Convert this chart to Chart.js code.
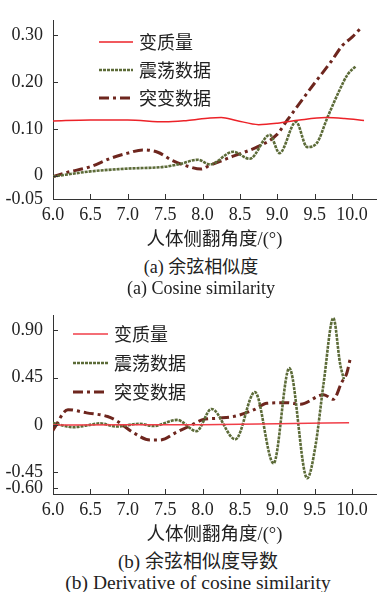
<!DOCTYPE html>
<html>
<head>
<meta charset="utf-8">
<script src="https://cdn.jsdelivr.net/npm/chart.js@4.4.1/dist/chart.umd.min.js"></script>
<style>
  body { margin: 0; background: #fff; width: 377px; height: 592px; position: relative; overflow: hidden; }
  canvas { position: absolute; left: 0; }
  #c1 { top: 0; }
  #c2 { top: 295px; }
  .cap { position: absolute; left: 0; width: 402px; text-align: center; color: #222;
         font-family: 'Liberation Serif', 'Noto Sans CJK SC', serif; font-size: 18px; line-height: 20px; }
  .cap.b { font-size: 19px; width: 396px; }
  .cap.be { font-size: 19.5px; width: 396px; }
</style>
</head>
<body>
<canvas id="c1" width="377" height="252"></canvas>
<canvas id="c2" width="377" height="252"></canvas>
<div class="cap" style="top:257px">(a) 余弦相似度</div>
<div class="cap" style="top:278px">(a) Cosine similarity</div>
<div class="cap b" style="top:552px">(b) 余弦相似度导数</div>
<div class="cap be" style="top:573px">(b) Derivative of cosine similarity</div>
<script>
// tick values / labels
const angleTicks = [6.0, 6.5, 7.0, 7.5, 8.0, 8.5, 9.0, 9.5, 10.0];
const angleTickLabels = ['6.0', '6.5', '7.0', '7.5', '8.0', '8.5', '9.0', '9.5', '10.0'];
const cosTicks = [0.30, 0.20, 0.10, 0, -0.05];
const cosTickLabels = ['0.30', '0.20', '0.10', '0', '-0.05'];
const derTicks = [0.90, 0.45, 0, -0.45, -0.60];
const derTickLabels = ['0.90', '0.45', '0', '-0.45', '-0.60'];
const seriesNames = ['变质量', '震荡数据', '突变数据'];
const xTitle = '人体侧翻角度/(°)';

// (a) cosine similarity
const cosMassX = [6.0, 6.5, 7.0, 7.5, 7.8, 8.1, 8.25, 8.45, 8.75, 9.0, 9.3, 9.65, 9.9, 10.16];
const cosMassY = [0.117, 0.119, 0.119, 0.115, 0.118, 0.123, 0.124, 0.118, 0.109, 0.112, 0.119, 0.124, 0.122, 0.118];
const cosOscX = [6.0, 6.5, 7.0, 7.5, 7.7, 7.94, 8.1, 8.41, 8.63, 8.9, 9.03, 9.25, 9.4, 9.53, 9.67, 9.83, 9.94, 10.05];
const cosOscY = [-0.002, 0.009, 0.015, 0.019, 0.025, 0.034, 0.024, 0.051, 0.036, 0.087, 0.048, 0.115, 0.061, 0.070, 0.124, 0.182, 0.216, 0.234];
const cosJumpX = [6.0, 6.19, 6.5, 6.77, 7.0, 7.2, 7.4, 7.6, 7.8, 7.98, 8.1, 8.4, 8.74, 8.99, 9.14, 9.3, 9.5, 9.72, 9.87, 10.0, 10.12];
const cosJumpY = [-0.002, 0.007, 0.019, 0.037, 0.048, 0.055, 0.05, 0.032, 0.02, 0.014, 0.022, 0.041, 0.062, 0.087, 0.12, 0.155, 0.198, 0.244, 0.278, 0.296, 0.316];

// (b) derivative of cosine similarity
const derMassX = [6.0, 7.0, 8.0, 9.0, 9.96];
const derMassY = [0.0, 0.001, 0.003, 0.012, 0.022];
const derOscX = [6.0, 6.27, 6.45, 6.63, 6.85, 7.16, 7.34, 7.66, 7.92, 8.12, 8.44, 8.70, 8.95, 9.16, 9.40, 9.51, 9.62, 9.75, 9.84, 9.89];
const derOscY = [0.018, -0.021, -0.005, 0.015, -0.015, 0.012, -0.01, 0.048, -0.058, 0.152, -0.136, 0.312, -0.364, 0.539, -0.506, -0.2, 0.4, 1.015, 0.58, 0.434];
const derJumpX = [6.0, 6.2, 6.45, 6.73, 6.85, 7.06, 7.3, 7.43, 7.66, 7.84, 8.0, 8.2, 8.41, 8.69, 8.86, 9.13, 9.31, 9.62, 9.75, 9.86, 9.93, 9.98];
const derJumpY = [-0.05, 0.145, 0.115, 0.08, 0.04, -0.066, -0.143, -0.143, -0.066, -0.006, 0.05, 0.064, 0.079, 0.145, 0.206, 0.212, 0.197, 0.288, 0.243, 0.403, 0.494, 0.645];

const serif = "'Liberation Serif', 'Noto Sans CJK SC', serif";
Chart.defaults.font.family = serif;
const pts = (xs, ys) => xs.map((x, i) => ({ x: x, y: ys[i] }));

// tick marks pointing into the plot
const innerTicks = {
  id: 'innerTicks',
  afterDraw(chart) {
    const ctx = chart.ctx, a = chart.chartArea, sx = chart.scales.x, sy = chart.scales.y;
    ctx.save();
    ctx.strokeStyle = '#333';
    ctx.lineWidth = 1;
    ctx.beginPath();
    sx.ticks.forEach(t => {
      const px = Math.round(sx.getPixelForValue(t.value)) + 0.5;
      if (px > a.left + 2) { ctx.moveTo(px, a.bottom); ctx.lineTo(px, a.bottom - 5); }
    });
    sy.ticks.forEach(t => {
      const py = Math.round(sy.getPixelForValue(t.value)) + 0.5;
      if (py < a.bottom - 2) { ctx.moveTo(a.left, py); ctx.lineTo(a.left + 5, py); }
    });
    ctx.stroke();
    ctx.restore();
  }
};

// legend drawn inside the plot, top left
const innerLegend = {
  id: 'innerLegend',
  afterDraw(chart, args, o) {
    const ctx = chart.ctx;
    ctx.save();
    chart.data.datasets.forEach((ds, i) => {
      const y = o.y + i * o.gap;
      ctx.strokeStyle = ds.borderColor;
      ctx.lineWidth = ds.borderWidth;
      ctx.setLineDash(ds.borderDash || []);
      ctx.beginPath();
      ctx.moveTo(o.x, y);
      ctx.lineTo(o.x + o.len, y);
      ctx.stroke();
      ctx.setLineDash([]);
      ctx.fillStyle = '#222';
      ctx.font = "18px 'Noto Sans CJK SC'";
      ctx.textBaseline = 'middle';
      ctx.fillText(ds.label, o.x + o.len + 6, y);
    });
    ctx.restore();
  }
};

function makeChart(id, data, yTicks, yLabels, yMin, yMax, legendPos, redColor) {
  const ctx = document.getElementById(id).getContext('2d');
  return new Chart(ctx, {
    type: 'line',
    data: {
      datasets: [
        { label: seriesNames[0], data: pts(data[0], data[1]), borderColor: redColor, borderWidth: 1.5,
          pointRadius: 0, cubicInterpolationMode: 'monotone', fill: false },
        { label: seriesNames[1], data: pts(data[2], data[3]), borderColor: '#5c6b38', borderWidth: 2.6,
          borderDash: [3, 1], pointRadius: 0, cubicInterpolationMode: 'monotone', fill: false },
        { label: seriesNames[2], data: pts(data[4], data[5]), borderColor: '#6e261e', borderWidth: 3,
          borderDash: [10, 4, 3, 4], pointRadius: 0, cubicInterpolationMode: 'monotone', fill: false }
      ]
    },
    options: {
      responsive: false,
      animation: false,
      layout: { padding: { top: 12, right: 1, left: 0, bottom: 0 } },
      plugins: {
        legend: { display: false },
        tooltip: { enabled: false },
        innerLegend: legendPos
      },
      scales: {
        x: {
          type: 'linear', min: 6.0, max: 10.32,
          afterBuildTicks: s => { s.ticks = angleTicks.map(v => ({ value: v })); },
          afterFit: s => { s.height = 53; },
          grid: { display: false, drawTicks: false },
          border: { display: true, color: '#333', width: 1 },
          ticks: { padding: 5, color: '#222', font: { family: serif, size: 18 },
                   maxRotation: 0, autoSkip: false,
                   callback: v => angleTickLabels[angleTicks.indexOf(v)] },
          title: { display: true, text: xTitle, color: '#222', font: { family: serif, size: 18.5 },
                   padding: { top: 4, bottom: 1 } }
        },
        y: {
          type: 'linear', min: yMin, max: yMax,
          afterBuildTicks: s => { s.ticks = yTicks.map(v => ({ value: v })); },
          afterFit: s => { s.width = 53; },
          grid: { display: false, drawTicks: false },
          border: { display: true, color: '#333', width: 1 },
          ticks: { padding: 10, color: '#222', font: { family: serif, size: 18 },
                   callback: v => yLabels[yTicks.indexOf(v)] }
        }
      }
    },
    plugins: [innerTicks, innerLegend]
  });
}

function draw() {
  makeChart('c1', [cosMassX, cosMassY, cosOscX, cosOscY, cosJumpX, cosJumpY],
    cosTicks, cosTickLabels, -0.05, 0.331, { x: 99, y: 42, gap: 28, len: 34 }, '#ec2228');
  makeChart('c2', [derMassX, derMassY, derOscX, derOscY, derJumpX, derJumpY],
    derTicks, derTickLabels, -0.655, 1.036, { x: 73, y: 39, gap: 29, len: 35 }, '#f03e48');
}

draw();
</script>
</body>
</html>
